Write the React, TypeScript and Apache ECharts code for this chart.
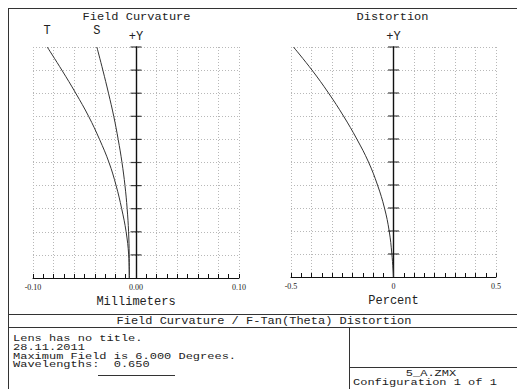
import React, { useEffect, useRef } from "react";
import * as echarts from "echarts";

// ---- data ----
const fieldFractions = [0, 0.1, 0.2, 0.3, 0.4, 0.5, 0.6, 0.7, 0.8, 0.9, 1.0];
const tangential = [-0.0065, -0.0071, -0.0096, -0.0139, -0.0193, -0.0262, -0.0354, -0.046, -0.0585, -0.072, -0.0862];
const sagittal = [-0.0065, -0.0066, -0.0072, -0.0086, -0.0107, -0.0136, -0.0173, -0.0216, -0.0267, -0.0322, -0.038];
const distortion = [0, -0.008, -0.021, -0.044, -0.078, -0.122, -0.179, -0.244, -0.317, -0.398, -0.488];
const fieldTicks = [0.1, 0.2, 0.3, 0.4, 0.5, 0.6, 0.7, 0.8, 0.9, 1.0];
const mmLabels = ["-0.10", "0.00", "0.10"];
const pctLabels = ["-0.5", "0", "0.5"];
const infoLines = ["Lens has no title.", "28.11.2011", "Maximum Field is 6.000 Degrees.", "Wavelengths:  0.650"];
const bottomTitle = "Field Curvature / F-Tan(Theta) Distortion";
const fileName = "5_A.ZMX";
const configText = "Configuration 1 of 1";

const MONO = '"Liberation Mono", "Courier New", monospace';
const INK = "#222";
const GRIDC = "#b8b8b8";

function near(a: number, b: number) {
  return Math.abs(a - b) < 1e-6;
}

export default function App() {
  const ref = useRef<HTMLDivElement>(null);
  useEffect(() => {
    document.body.style.margin = "0";
    const chart = echarts.init(ref.current!, null, { renderer: "svg" });
    const last = fieldFractions.length - 1;

    const curveData = (xs: number[], lab?: string) =>
      fieldFractions.map((f, i) =>
        i === last && lab
          ? {
              value: [xs[i], f],
              label: {
                show: true,
                formatter: lab,
                position: "top",
                distance: 10,
                fontFamily: MONO,
                fontSize: 12,
                color: INK,
              },
            }
          : { value: [xs[i], f], label: { show: false } }
      );

    const xAxisCommon = (min: number, max: number, interval: number, labels: string[], name: string) => ({
      type: "value",
      min,
      max,
      interval,
      splitNumber: 10,
      name,
      nameLocation: "middle",
      nameGap: 16,
      nameTextStyle: { fontFamily: MONO, fontSize: 12, color: INK },
      axisLine: { show: true, onZero: true, lineStyle: { color: "#111", width: 1 } },
      axisTick: { show: true, inside: true, length: 4, lineStyle: { color: "#111" } },
      minorTick: { show: true, splitNumber: 2, length: 4, lineStyle: { color: "#111" } },
      minorSplitLine: { show: false },
      axisLabel: {
        show: true,
        margin: 5,
        fontFamily: '"Liberation Serif", serif',
        fontSize: 8,
        color: INK,
        formatter: (v: number) =>
          near(v, min) ? labels[0] : near(v, 0) ? labels[1] : near(v, max) ? labels[2] : "",
      },
      splitLine: { show: true, lineStyle: { color: GRIDC, type: [1, 2], width: 1 } },
    });

    const yAxisCommon = (gridIndex: number) => ({
      type: "value",
      gridIndex,
      min: 0,
      max: 1,
      interval: 0.1,
      splitNumber: 10,
      name: "+Y",
      nameLocation: "end",
      nameGap: 4,
      nameTextStyle: { fontFamily: MONO, fontSize: 12, color: INK },
      axisLine: { show: true, onZero: true, lineStyle: { color: "#111", width: 1.4 } },
      axisTick: { show: false },
      minorTick: { show: false },
      minorSplitLine: { show: false },
      axisLabel: { show: false },
      splitLine: { show: true, lineStyle: { color: GRIDC, type: [1, 2], width: 1 } },
    });

    const tickData = fieldTicks.map((f) => [0, f]);

    const line = (xi: number, data: any) => ({
      type: "line",
      xAxisIndex: xi,
      yAxisIndex: xi,
      data,
      smooth: 0.4,
      symbol: "circle",
      symbolSize: 0,
      showSymbol: true,
      lineStyle: { color: "#333", width: 1 },
      itemStyle: { color: "#333" },
      silent: true,
      z: 3,
    });

    const ticks = (xi: number) => ({
      type: "scatter",
      xAxisIndex: xi,
      yAxisIndex: xi,
      data: tickData,
      symbol: "rect",
      symbolSize: [11, 1.2],
      itemStyle: { color: "#111" },
      silent: true,
      z: 4,
    });

    const L = (x1: number, y1: number, x2: number, y2: number) => ({
      type: "line",
      shape: { x1, y1, x2, y2 },
      style: { stroke: "#333", lineWidth: 1 },
      silent: true,
    });
    // Monospace text widened to the 7.2px character pitch of the reference
    const T = (text: string, x: number, y: number, align = "left", size = 9.5) => ({
      type: "text",
      x,
      y,
      scaleX: 7.2 / (0.6 * size),
      scaleY: 1,
      silent: true,
      style: {
        text,
        font: `${size}px ${MONO}`,
        fill: INK,
        align,
        textAlign: align,
        verticalAlign: "middle",
        textVerticalAlign: "middle",
      },
    });

    const graphics: any[] = [
      L(8, 8.5, 517, 8.5),
      L(8.5, 8, 8.5, 389),
      L(8, 314.5, 517, 314.5),
      L(8, 327.5, 517, 327.5),
      L(349.5, 327.5, 349.5, 389),
      L(349.5, 367.5, 517, 367.5),
      L(98, 375.5, 175, 375.5),
      T("Field Curvature", 136.5, 17, "center", 10.5),
      T("Distortion", 392.5, 17, "center", 10.5),
      T(bottomTitle, 264, 321, "center", 10.5),
      T(fileName, 431, 373, "center"),
      T(configText, 353, 382.5, "left"),
      ...infoLines.map((s, i) => T(s, 13, 338.5 + i * 8.7, "left")),
    ];

    chart.setOption({
      animation: false,
      backgroundColor: "#fff",
      grid: [
        { left: 33, right: 278, top: 47, bottom: 111, containLabel: false },
        { left: 291, right: 21, top: 47, bottom: 112, containLabel: false },
      ],
      xAxis: [
        { ...xAxisCommon(-0.1, 0.1, 0.02, mmLabels, "Millimeters"), gridIndex: 0 },
        { ...xAxisCommon(-0.5, 0.5, 0.1, pctLabels, "Percent"), gridIndex: 1 },
      ],
      yAxis: [yAxisCommon(0), yAxisCommon(1)],
      series: [
        line(0, curveData(tangential, "T")),
        line(0, curveData(sagittal, "S")),
        ticks(0),
        line(1, curveData(distortion)),
        ticks(1),
      ],
      graphic: graphics,
    });
    return () => chart.dispose();
  }, []);
  return (
    <div
      ref={ref}
      style={{ position: "fixed", left: 0, top: 0, width: 517, height: 389, background: "#fff" }}
    />
  );
}
